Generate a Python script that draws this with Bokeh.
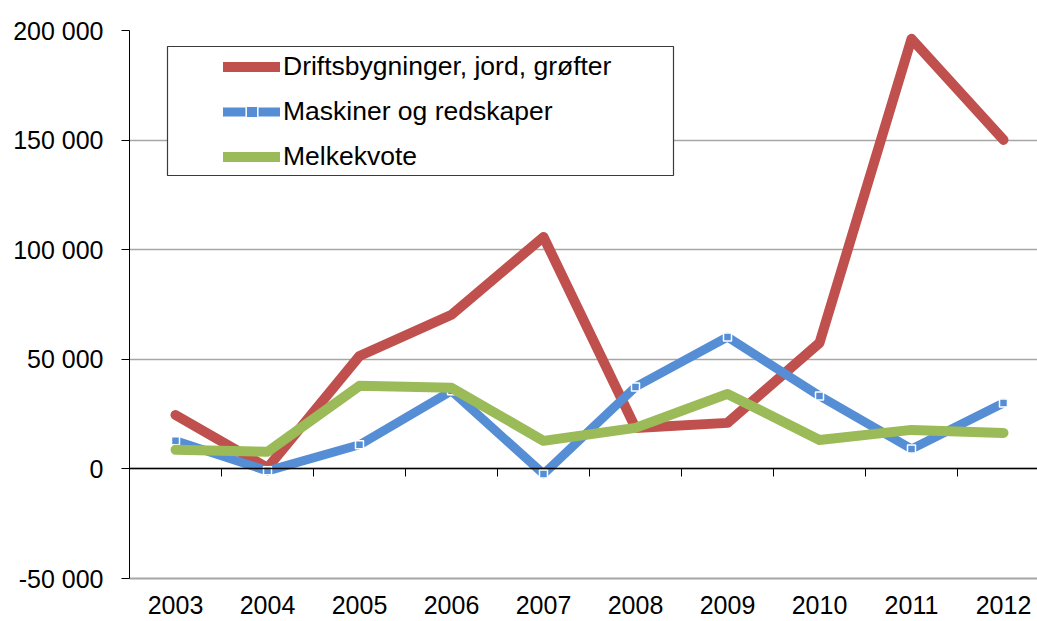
from bokeh.plotting import figure
from bokeh.models import (LinearAxis, FixedTicker, CustomJSTickFormatter, Legend,
                          LegendItem, BoxAnnotation, Range1d, ColumnDataSource)
from bokeh.embed import file_html
from bokeh.resources import INLINE

years = [2003, 2004, 2005, 2006, 2007, 2008, 2009, 2010, 2011, 2012]
driftsbygninger = [24600, 500, 51500, 70300, 105800, 18700, 21000, 57500, 196200, 150100]
maskiner = [12800, -900, 11000, 35600, -2300, 37400, 60200, 33300, 9100, 30100]
melkekvote = [8700, 7800, 37900, 37000, 12800, 18700, 34200, 13200, 17800, 16400]
labels = ["Driftsbygninger, jord, grøfter", "Maskiner og redskaper", "Melkekvote"]
y_ticks = [-50000, 0, 50000, 100000, 150000, 200000]

FONT = "Liberation Sans"
RED, BLUE, GREEN = "#C0504D", "#558ED5", "#9BBB59"
GRID = "#A6A6A6"

W, H = 1037, 621
left_b, top_b, bottom_b = 129, 30, 43
frame_w = W - left_b
cat_w = 92.0

src = ColumnDataSource(dict(x=years, d=driftsbygninger, m=maskiner, k=melkekvote))

p = figure(width=W, height=H, output_backend="svg", toolbar_location=None,
           x_range=Range1d(2002.5, 2002.5 + frame_w / cat_w),
           y_range=Range1d(-50000, 200000),
           min_border_left=left_b, min_border_right=0, min_border_top=top_b,
           min_border_bottom=bottom_b, x_axis_location=None, y_axis_location=None)
p.outline_line_color = None
p.background_fill_color = "white"
p.border_fill_color = "white"

# y axis
yax = LinearAxis(ticker=FixedTicker(ticks=y_ticks))
yax.formatter = CustomJSTickFormatter(code="""
const s = Math.abs(tick).toFixed(0).replace(/\\B(?=(\\d{3})+(?!\\d))/g, " ");
return (tick < 0 ? "-" : "") + s;
""")
yax.major_label_text_font = FONT
yax.major_label_text_font_size = "25px"
yax.major_label_text_color = "black"
yax.major_tick_out = 8
yax.major_tick_in = 0
yax.minor_tick_out = 0
yax.minor_tick_in = 0
yax.major_label_standoff = 18
yax.axis_line_color = "black"
yax.major_tick_line_color = "black"
p.add_layout(yax, "left")

# bottom labels axis (its line doubles as the -50 000 gridline)
xax = LinearAxis(ticker=FixedTicker(ticks=years))
xax.formatter = CustomJSTickFormatter(code="return tick.toFixed(0);")
xax.major_label_text_font = FONT
xax.major_label_text_font_size = "25px"
xax.major_label_text_color = "black"
xax.major_tick_out = 0
xax.major_tick_in = 0
xax.minor_tick_out = 0
xax.minor_tick_in = 0
xax.major_label_standoff = 17
xax.axis_line_color = GRID
xax.axis_line_width = 2
p.add_layout(xax, "below")

# zero axis with category boundary ticks
zax = LinearAxis(fixed_location=0,
                 ticker=FixedTicker(ticks=[y + 0.5 for y in years[:-1]]))
zax.major_label_text_color = None
zax.major_label_text_font_size = "1px"
zax.major_label_standoff = 0
zax.major_tick_out = 8
zax.major_tick_in = 0
zax.minor_tick_out = 0
zax.minor_tick_in = 0
zax.axis_line_color = "black"
zax.axis_line_width = 1.5
zax.major_tick_line_color = "black"
p.add_layout(zax, "below")

p.ygrid.ticker = FixedTicker(ticks=y_ticks)
p.ygrid.grid_line_color = GRID
p.ygrid.grid_line_width = 1.5
p.xgrid.visible = False

r1 = p.line("x", "d", source=src, line_color=RED, line_width=10, line_cap="round", line_join="round")
r2 = p.line("x", "m", source=src, line_color=BLUE, line_width=9, line_cap="round", line_join="round")
r2m = p.scatter("x", "m", source=src, marker="square", size=8, fill_color=BLUE,
                line_color="white", line_width=1.5)
r3 = p.line("x", "k", source=src, line_color=GREEN, line_width=10, line_cap="round", line_join="round")

box = BoxAnnotation(left=167, right=673, top=46, bottom=175,
                    left_units="canvas", right_units="canvas",
                    top_units="canvas", bottom_units="canvas",
                    fill_color="white", fill_alpha=1.0,
                    line_color="#3A3A3A", line_alpha=1.0, line_width=1.2)
p.add_layout(box)

legend = Legend(items=[LegendItem(label=labels[0], renderers=[r1]),
                       LegendItem(label=labels[1], renderers=[r2, r2m]),
                       LegendItem(label=labels[2], renderers=[r3])],
                location=(94, 406))
legend.border_line_color = None
legend.background_fill_alpha = 0
legend.padding = 0
legend.margin = 0
legend.spacing = 14
legend.glyph_width = 57
legend.glyph_height = 29
legend.label_standoff = 3
legend.label_text_font = FONT
legend.label_text_font_size = "26.5px"
legend.label_text_color = "black"
legend.label_height = 29
p.add_layout(legend)

open("out.html", "w").write(file_html(p, INLINE))
